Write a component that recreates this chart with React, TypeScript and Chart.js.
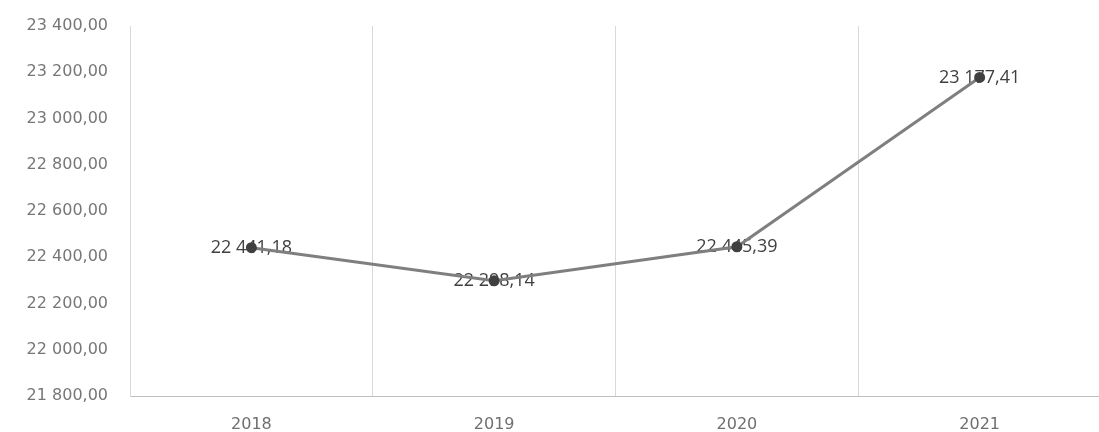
import React, { useEffect, useRef } from "react";
import { Chart, registerables } from "chart.js";

Chart.register(...registerables);

const categories = ["2018", "2019", "2020", "2021"];
const values = [22441.18, 22298.14, 22445.39, 23177.41];
const yMin = 21800;
const yMax = 23400;
const yStep = 200;

function fmt(v: number): string {
  const fixed = Math.abs(v).toFixed(2);
  const [intPart, dec] = fixed.split(".");
  const withSpaces = intPart.replace(/\B(?=(\d{3})+(?!\d))/g, " ");
  return (v < 0 ? "-" : "") + withSpaces + "," + dec;
}

const labelPlugin = {
  id: "valueLabels",
  beforeDatasetsDraw(chart: any) {
    const ctx = chart.ctx;
    const meta = chart.getDatasetMeta(0);
    ctx.save();
    ctx.font = "18px 'Open Sans', sans-serif";
    ctx.fillStyle = "#404040";
    ctx.textAlign = "center";
    ctx.textBaseline = "middle";
    meta.data.forEach((pt: any, i: number) => {
      ctx.fillText(fmt(values[i]), pt.x, pt.y);
    });
    ctx.restore();
  },
};

export default function App() {
  const ref = useRef<HTMLCanvasElement>(null);
  useEffect(() => {
    if (!ref.current) return;
    const chart = new Chart(ref.current, {
      type: "line",
      data: {
        labels: categories,
        datasets: [
          {
            data: values,
            borderColor: "#7f7f7f",
            borderWidth: 3,
            pointRadius: 4,
            pointBackgroundColor: "#404040",
            pointBorderColor: "#404040",
            tension: 0,
          },
        ],
      },
      options: {
        responsive: false,
        animation: false,
        layout: { padding: { top: 26, right: 0, bottom: 0, left: 0 } },
        plugins: { legend: { display: false }, tooltip: { enabled: false } },
        scales: {
          x: {
            offset: true,
            grid: { display: true, offset: true, color: "#d9d9d9", lineWidth: 1, drawTicks: false },
            border: { display: true, color: "#bfbfbf", width: 1 },
            ticks: {
              color: "#6f6f6f",
              font: { family: "'DejaVu Sans', sans-serif", size: 16 },
              padding: 19,
            },
            afterFit(scale: any) {
              scale.height = 36;
              scale.paddingLeft = 0;
              scale.paddingRight = 0;
            },
          },
          y: {
            min: yMin,
            max: yMax,
            grid: { display: false, drawTicks: false },
            border: { display: true, color: "#d9d9d9", width: 1 },
            ticks: {
              stepSize: yStep,
              color: "#777777",
              font: { family: "'DejaVu Sans', sans-serif", size: 16 },
              padding: 22,
              callback: (v: any) => fmt(Number(v)),
            },
            afterFit(scale: any) {
              scale.width = 130;
              scale.paddingTop = 0;
              scale.paddingBottom = 0;
            },
          },
        },
      },
      plugins: [labelPlugin],
    });
    return () => chart.destroy();
  }, []);
  return (
    <div style={{ position: "fixed", left: 0, top: 0, width: 1099, height: 432, overflow: "hidden", background: "#fff" }}>
      <canvas ref={ref} width={1108} height={432} style={{ display: "block" }} />
    </div>
  );
}
